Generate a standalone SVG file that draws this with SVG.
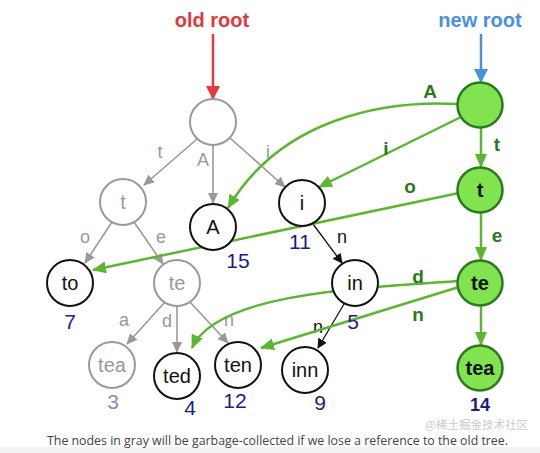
<svg xmlns="http://www.w3.org/2000/svg" width="540" height="453" viewBox="0 0 540 453">
<style>
.gn{fill:#fff;stroke:#999;stroke-width:2}
.bn{fill:#fff;stroke:#111;stroke-width:2}
.nn{fill:#80e34f;stroke:#2b7a1c;stroke-width:2.5}
.t{font-family:"Liberation Sans",Arial,sans-serif;font-size:20px;text-anchor:middle}
.gt{fill:#999}
.bt{fill:#111}
.nt{fill:#111;font-weight:bold}
.num{font-family:"Liberation Sans",Arial,sans-serif;font-size:21px;text-anchor:middle;fill:#1b1b8a}
.ge{stroke:#999;stroke-width:1.6;fill:none;marker-end:url(#ag)}
.be{stroke:#111;stroke-width:1.3;fill:none;marker-end:url(#ab)}
.gr{stroke:#5db632;stroke-width:2.5;fill:none;marker-end:url(#agr)}
.el{font-family:"Liberation Sans",Arial,sans-serif;font-size:18px;text-anchor:middle;fill:#999}
.grl{font-family:"Liberation Sans",Arial,sans-serif;font-size:19px;font-weight:bold;text-anchor:middle;fill:#2b7a1c}
</style>
<defs>
<marker id="ag" markerWidth="11" markerHeight="10" refX="10" refY="5" orient="auto" markerUnits="userSpaceOnUse"><path d="M0,0 L11,5 L0,10 Z" fill="#999"/></marker>
<marker id="ab" markerWidth="10" markerHeight="10" refX="9" refY="5" orient="auto" markerUnits="userSpaceOnUse"><path d="M0,0 L10,5 L0,10 Z" fill="#111"/></marker>
<marker id="agr" markerWidth="14" markerHeight="12" refX="13" refY="6" orient="auto" markerUnits="userSpaceOnUse"><path d="M0,0 L14,6 L0,12 Z" fill="#5db632"/></marker>
<marker id="ared" markerWidth="14" markerHeight="14" refX="13" refY="7" orient="auto" markerUnits="userSpaceOnUse"><path d="M0,0 L14,7 L0,14 Z" fill="#e0393e"/></marker>
<marker id="ablue" markerWidth="14" markerHeight="14" refX="13" refY="7" orient="auto" markerUnits="userSpaceOnUse"><path d="M0,0 L14,7 L0,14 Z" fill="#4a90e2"/></marker>
</defs>
<rect width="540" height="453" fill="#fff"/>
<rect y="447" width="540" height="6" fill="#f3f3f3"/>

<g id="labels-top">
<text x="212" y="27" font-family="Liberation Sans,Arial,sans-serif" font-size="20" font-weight="bold" fill="#e0393e" text-anchor="middle">old root</text>
<text x="480" y="27" font-family="Liberation Sans,Arial,sans-serif" font-size="20" font-weight="bold" fill="#4a90e2" text-anchor="middle">new root</text>
</g>

<g id="connectors">
<line x1="213" y1="34" x2="213" y2="99" stroke="#e0393e" stroke-width="2.5" marker-end="url(#ared)"/>
<line x1="481" y1="34" x2="481" y2="82" stroke="#4a90e2" stroke-width="2.5" marker-end="url(#ablue)"/>
<line class="ge" x1="197" y1="139" x2="144" y2="185"/>
<line class="ge" x1="213" y1="145" x2="213" y2="203"/>
<line class="ge" x1="230" y1="138" x2="285" y2="187"/>
<line class="ge" x1="112" y1="222" x2="85" y2="263"/>
<line class="ge" x1="134" y1="222" x2="163" y2="264"/>
<line class="ge" x1="165" y1="302" x2="127" y2="344"/>
<line class="ge" x1="177" y1="306" x2="177" y2="352"/>
<line class="ge" x1="190" y1="302" x2="228" y2="343"/>
<line class="be" x1="313" y1="224" x2="342" y2="263"/>
<line class="be" x1="344" y1="304" x2="318" y2="348"/>
<text class="el" x="160" y="158">t</text>
<text class="el" x="203" y="166">A</text>
<text class="el" x="268" y="158">i</text>
<text class="el" x="85" y="243">o</text>
<text class="el" x="161" y="243">e</text>
<text class="el" x="124" y="326">a</text>
<text class="el" x="167" y="327">d</text>
<text class="el" x="229" y="326">n</text>
<text x="342" y="243" font-family="Liberation Sans,Arial,sans-serif" font-size="18" fill="#111" text-anchor="middle">n</text>
<text x="318" y="333" font-family="Liberation Sans,Arial,sans-serif" font-size="18" fill="#111" text-anchor="middle">n</text>
<path class="gr" d="M458,104 C380,100 280,120 228,208"/>
<line class="gr" x1="461" y1="117" x2="319" y2="187"/>
<line class="gr" x1="459" y1="193" x2="93" y2="270"/>
<path class="gr" d="M459,281 C350,288 215,295 192,348"/>
<line class="gr" x1="459" y1="287" x2="261" y2="348"/>
<line class="gr" x1="481" y1="128" x2="481" y2="167"/>
<line class="gr" x1="481" y1="213" x2="481" y2="260"/>
<line class="gr" x1="481" y1="306" x2="481" y2="345"/>
<text class="grl" x="430" y="98">A</text>
<text class="grl" x="386" y="155">i</text>
<text class="grl" x="497" y="151">t</text>
<text class="grl" x="410" y="193">o</text>
<text class="grl" x="497" y="242">e</text>
<text class="grl" x="418" y="283">d</text>
<text class="grl" x="418" y="321">n</text>
</g>

<g id="n-root"><circle class="gn" cx="213" cy="122" r="23"/></g>
<g id="n-t"><circle class="gn" cx="123" cy="202" r="23"/><text class="t gt" x="123" y="209">t</text></g>
<g id="n-A"><circle class="bn" cx="213" cy="227" r="23"/><text class="t bt" x="213" y="234">A</text><text class="num" x="238" y="268">15</text></g>
<g id="n-i"><circle class="bn" cx="302" cy="203" r="23"/><text class="t bt" x="302" y="210">i</text><text class="num" x="300" y="249">11</text></g>
<g id="n-to"><circle class="bn" cx="70" cy="283" r="23"/><text class="t bt" x="70" y="290">to</text><text class="num" x="70" y="329">7</text></g>
<g id="n-te"><circle class="gn" cx="177" cy="283" r="23"/><text class="t gt" x="177" y="290">te</text></g>
<g id="n-in"><circle class="bn" cx="355" cy="283" r="23"/><text class="t bt" x="355" y="290">in</text><text class="num" x="353" y="329">5</text></g>
<g id="n-tea"><circle class="gn" cx="112" cy="365" r="23"/><text class="t gt" x="112" y="372">tea</text><text class="num" x="113" y="409" style="fill:#8a8ac4">3</text></g>
<g id="n-ted"><circle class="bn" cx="177" cy="376" r="23"/><text class="t bt" x="177" y="383">ted</text><text class="num" x="190" y="415">4</text></g>
<g id="n-ten"><circle class="bn" cx="238" cy="365" r="23"/><text class="t bt" x="238" y="372">ten</text><text class="num" x="235" y="408">12</text></g>
<g id="n-inn"><circle class="bn" cx="305" cy="370" r="23"/><text class="t bt" x="305" y="377">inn</text><text class="num" x="320" y="410">9</text></g>
<g id="n-newroot"><circle class="nn" cx="480" cy="105" r="22.5"/></g>
<g id="n-nt"><circle class="nn" cx="480" cy="190" r="22.5"/><text class="t nt" x="480" y="197">t</text></g>
<g id="n-nte"><circle class="nn" cx="480" cy="283" r="22.5"/><text class="t nt" x="480" y="290">te</text></g>
<g id="n-ntea"><circle class="nn" cx="480" cy="368" r="22.5"/><text class="t nt" x="480" y="375">tea</text><text class="num" x="480" y="411" style="font-size:18px;font-weight:bold">14</text></g>

<g id="caption">
<text x="47" y="445" font-family="Open Sans,Lato,sans-serif" font-size="13" fill="#444" textLength="461" lengthAdjust="spacingAndGlyphs">The nodes in gray will be garbage-collected if we lose a reference to the old tree.</text>
<text x="425" y="429" font-family="Noto Sans CJK SC,sans-serif" font-size="11.5" fill="#bbb" fill-opacity="0.8">@稀土掘金技术社区</text>
</g>
</svg>
